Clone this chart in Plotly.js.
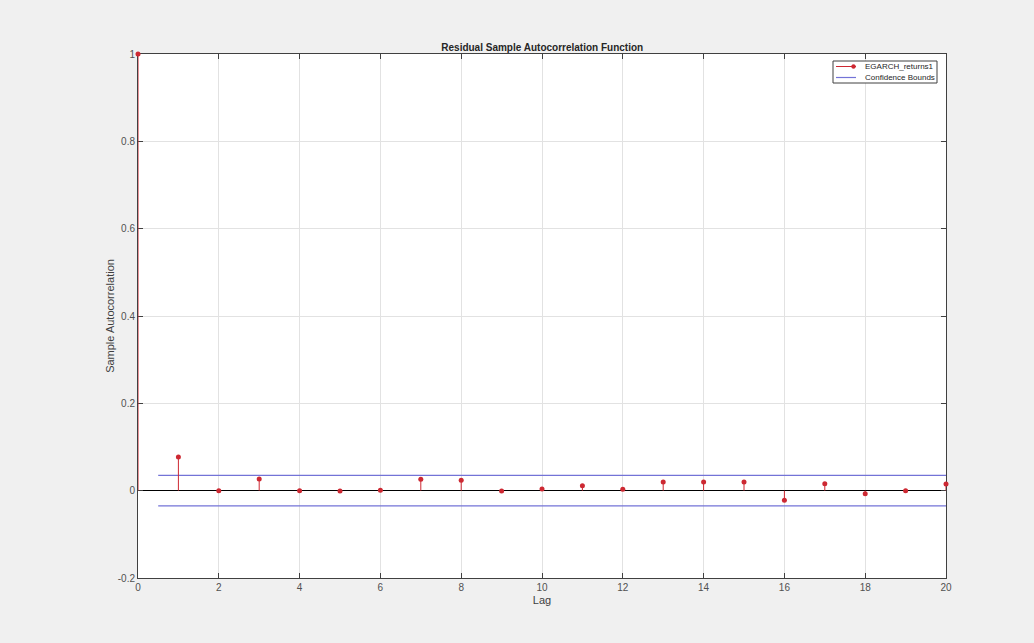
<!DOCTYPE html>
<html>
<head>
<meta charset="utf-8">
<script src="https://cdn.plot.ly/plotly-3.0.1.min.js"></script>
<style>html,body{margin:0;padding:0;background:#f0f0f0;}#chart{width:1034px;height:643px;}</style>
</head>
<body>
<div id="chart"></div>
<script>
// Data
var lags = [0,1,2,3,4,5,6,7,8,9,10,11,12,13,14,15,16,17,18,19,20];
var acf  = [1, 0.077, 0.000, 0.027, 0.000, -0.001, 0.001, 0.026, 0.024, -0.001, 0.004,
            0.011, 0.003, 0.020, 0.020, 0.020, -0.022, 0.016, -0.007, 0.000, 0.015];
var confBound = 0.035;
var confStart = 0.5;
var confEnd = 20;
var xTickVals = [0,2,4,6,8,10,12,14,16,18,20];
var yTickVals = [-0.2,0,0.2,0.4,0.6,0.8,1];
var yTickText = ['-0.2','0','0.2','0.4','0.6','0.8','1'];
var seriesName = 'EGARCH_returns1';
var boundsName = 'Confidence Bounds';

var red = 'rgb(205,40,50)';
var blue = 'rgb(115,115,215)';
var FONT = 'Liberation Sans, Arial, sans-serif';

// plot area in pixels (for placing the compact legend)
var W = 1034, H = 643, L = 138, R = 88, T = 54, B = 65;
var pw = W - L - R, ph = H - T - B;
function px(x) { return (x - L) / pw; }
function py(y) { return (H - B - y) / ph; }

// stems built from data
var sx = [], sy = [];
for (var i = 0; i < lags.length; i++) {
  sx.push(lags[i], lags[i], null);
  sy.push(0, acf[i], null);
}

var traces = [
  {x: [confStart, confEnd, null, confStart, confEnd], y: [confBound, confBound, null, -confBound, -confBound],
   mode: 'lines', line: {color: blue, width: 1.2}, name: boundsName, showlegend: false, hoverinfo: 'skip'},
  {x: sx, y: sy, mode: 'lines', line: {color: red, width: 1}, name: seriesName, showlegend: false, hoverinfo: 'skip'},
  {x: lags, y: acf, mode: 'markers', marker: {color: red, size: 5}, name: seriesName, showlegend: false, cliponaxis: false}
];

var axisCommon = {
  showline: true, linecolor: '#404040', linewidth: 1, mirror: 'ticks',
  ticks: 'inside', ticklen: 5, tickcolor: '#404040', tickwidth: 1,
  showgrid: true, gridcolor: '#e2e2e2', gridwidth: 1,
  tickfont: {family: FONT, size: 10, color: '#505050'},
  layer: 'below traces'
};

// compact MATLAB-style legend
var lgL = 833, lgR = 937, lgT = 61, lgB = 83;
var row1 = 66.5, row2 = 77.5;
var shapes = [
  {type: 'rect', xref: 'paper', yref: 'paper', x0: px(lgL), x1: px(lgR), y0: py(lgB), y1: py(lgT),
   fillcolor: '#ffffff', line: {color: '#404040', width: 1}},
  {type: 'line', xref: 'paper', yref: 'paper', x0: px(836), x1: px(856), y0: py(row1), y1: py(row1),
   line: {color: red, width: 1}},
  {type: 'circle', xref: 'paper', yref: 'paper', x0: px(851.5), x1: px(855.5), y0: py(row1 + 2), y1: py(row1 - 2),
   fillcolor: red, line: {color: red, width: 0.5}},
  {type: 'line', xref: 'paper', yref: 'paper', x0: px(836), x1: px(856), y0: py(row2), y1: py(row2),
   line: {color: blue, width: 1.2}}
];
var annotations = [
  {xref: 'paper', yref: 'paper', x: px(863), y: py(row1), xanchor: 'left', yanchor: 'middle',
   text: seriesName, showarrow: false, font: {family: FONT, size: 8, color: '#262626'}},
  {xref: 'paper', yref: 'paper', x: px(863), y: py(row2), xanchor: 'left', yanchor: 'middle',
   text: boundsName, showarrow: false, font: {family: FONT, size: 8, color: '#262626'}}
];

var layout = {
  width: W, height: H,
  margin: {l: L, r: R, t: T, b: B, pad: 0},
  paper_bgcolor: '#f0f0f0', plot_bgcolor: '#ffffff',
  title: {text: '<b>Residual Sample Autocorrelation Function</b>', x: 0.5244, xanchor: 'center',
          y: 1 - 47/643, yanchor: 'middle',
          font: {family: FONT, size: 10, color: '#262626'}},
  xaxis: Object.assign({}, axisCommon, {
    range: [0, 20], tickvals: xTickVals, zeroline: false,
    title: {text: 'Lag', standoff: 4, font: {family: FONT, size: 11, color: '#404040'}}
  }),
  yaxis: Object.assign({}, axisCommon, {
    range: [-0.2, 1], tickvals: yTickVals, ticktext: yTickText,
    zeroline: true, zerolinecolor: '#000000', zerolinewidth: 1.5,
    title: {text: 'Sample Autocorrelation', standoff: 0, font: {family: FONT, size: 11, color: '#404040'}}
  }),
  shapes: shapes,
  annotations: annotations,
  showlegend: false
};

Plotly.newPlot('chart', traces, layout, {displayModeBar: false, staticPlot: true});
</script>
</body>
</html>
